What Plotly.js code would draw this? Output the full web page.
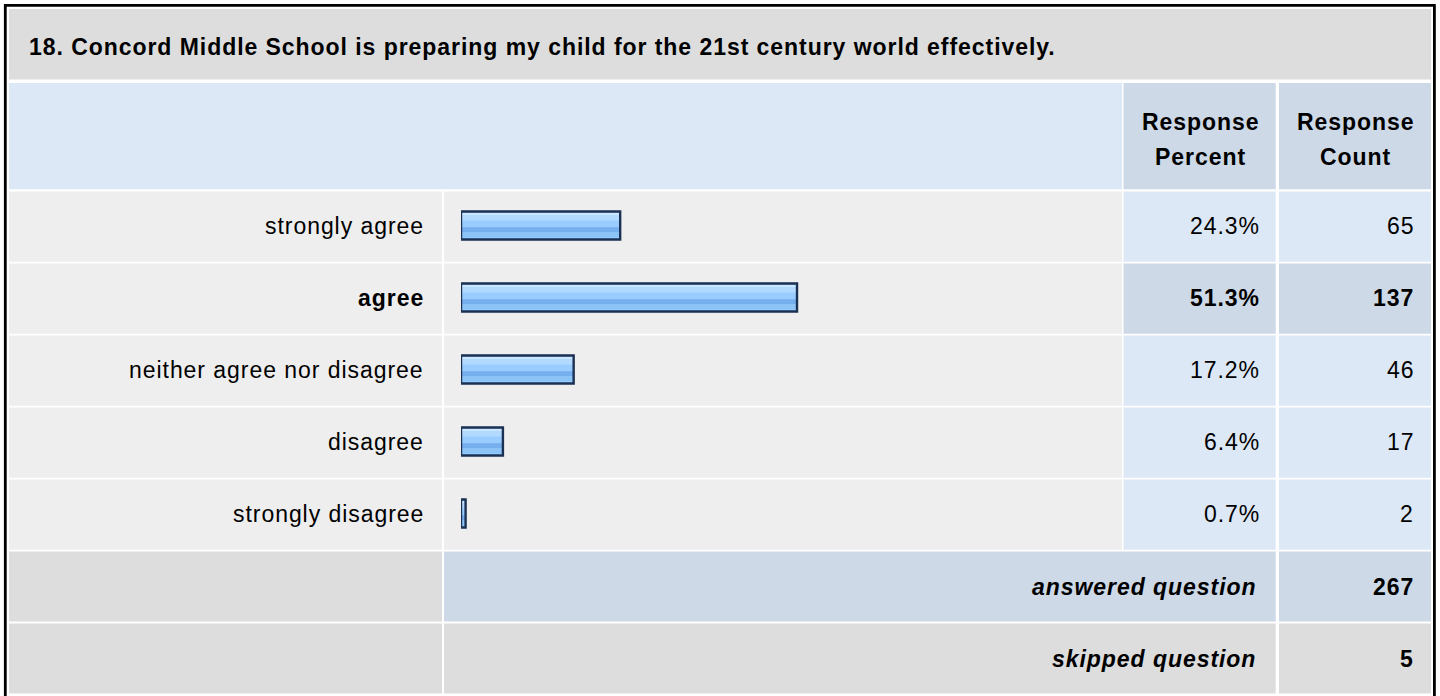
<!DOCTYPE html>
<html><head><meta charset="utf-8">
<script src="https://cdn.plot.ly/plotly-3.0.1.min.js"></script>
<style>html,body{margin:0;padding:0;background:#fff;overflow:hidden}
text{letter-spacing:0.95px}</style>
</head><body><div id="chart" style="width:1440px;height:696px"></div>
<script>
const questionTitle = "18. Concord Middle School is preparing my child for the 21st century world effectively.";
const categories = ["strongly agree", "agree", "neither agree nor disagree", "disagree", "strongly disagree"];
const responsePercent = [24.3, 51.3, 17.2, 6.4, 0.7];
const responseCount = [65, 137, 46, 17, 2];
const headerLabels = [["Response", "Percent"], ["Response", "Count"]];
const summaryLabels = ["answered question", "skipped question"];
const summaryCounts = [267, 5];

const W = 1440, H = 696;
const px = x => x / W;
const py = y => 1 - y / H;
const FONT = "Liberation Sans, Arial, sans-serif";
const FS = 23;
const ROW = 72;

const LIGHT = "#dde8f6", DARK = "#cdd9e6", GRAY = "#dddddd", ROWBG = "#eeeeee";
const maxIdx = responsePercent.indexOf(Math.max(...responsePercent));

function rect(x0, y0, x1, y1, color) {
  return {type: "rect", xref: "paper", yref: "paper", x0: px(x0), x1: px(x1), y0: py(y1), y1: py(y0),
          fillcolor: color, line: {width: 0}, layer: "below"};
}

const shapes = [];
shapes.push(rect(9, 9, 1431, 79.5, GRAY));
shapes.push(rect(9, 83, 1122, 189.3, LIGHT));
shapes.push(rect(1123.5, 83, 1275.7, 189.3, DARK));
shapes.push(rect(1279, 83, 1431, 189.3, DARK));
categories.forEach((c, i) => {
  const t = 191.5 + ROW * i, b = 261.7 + ROW * i;
  const cellC = i === maxIdx ? DARK : LIGHT;
  shapes.push(rect(9, t, 442, b, ROWBG));
  shapes.push(rect(444, t, 1122, b, ROWBG));
  shapes.push(rect(1123.5, t, 1275.7, b, cellC));
  shapes.push(rect(1279, t, 1431, b, cellC));
});
const sumTop = 191.5 + ROW * categories.length;
summaryLabels.forEach((s, j) => {
  const t = sumTop + ROW * j, b = t + 70;
  const c = j === 0 ? DARK : GRAY;
  shapes.push(rect(9, t, 442, b, GRAY));
  shapes.push(rect(444, t, 1275.7, b, c));
  shapes.push(rect(1279, t, 1431, b, c));
});
shapes.push({type: "rect", xref: "paper", yref: "paper", x0: px(5.3), x1: px(1434.4), y0: py(720), y1: py(5.3),
             line: {color: "#000", width: 2.8}, fillcolor: "rgba(0,0,0,0)", layer: "above"});

const annotations = [];
const txt = (x, y, text, anchor, yref) => ({xref: "paper", yref: yref || "paper", x: x, y: y, xanchor: anchor,
  align: anchor === "left" ? "left" : anchor === "right" ? "right" : "center",
  yanchor: "middle", text: text, showarrow: false, font: {family: FONT, size: FS, color: "#000"}});

annotations.push(txt(px(27), py(47), "<b>" + questionTitle + "</b>", "left"));
const headerX = [1200, 1355];
headerLabels.forEach((lines, k) => {
  lines.forEach((ln, m) => {
    annotations.push(txt(px(headerX[k] + 0.5), py(122 + 35 * m), "<b>" + ln + "</b>", "center"));
  });
});
categories.forEach((c, i) => {
  const bold = i === maxIdx;
  const w = s => bold ? "<b>" + s + "</b>" : s;
  annotations.push(txt(px(426), i, w(c), "right", "y"));
  annotations.push(txt(px(1262), i, w(responsePercent[i].toFixed(1) + "%"), "right", "y"));
  annotations.push(txt(px(1416), i, w(String(responseCount[i])), "right", "y"));
});
summaryLabels.forEach((s, j) => {
  const yc = sumTop + ROW * j + 35;
  annotations.push(txt(px(1258), py(yc), "<b><i>" + s + "</i></b>", "right"));
  annotations.push(txt(px(1416), py(yc), "<b>" + summaryCounts[j] + "</b>", "right"));
});

const BW = 28 / ROW;
function strip(fromPx, toPx, color) {
  return {type: "bar", orientation: "h", x: responsePercent, y: categories,
    offset: fromPx / ROW, width: (toPx - fromPx) / ROW,
    marker: {color: color, line: {width: 0}}, hoverinfo: "skip", showlegend: false};
}
const traces = [
  strip(-14, 14, "#99ccff"),
  strip(-13, -10, "#cce6ff"),
  strip(-10, -5, "#b3d9ff"),
  strip(1.7, 6.7, "#76afee"),
  strip(6.7, 11.7, "#8cc3f7"),
  {type: "bar", orientation: "h", x: responsePercent, y: categories, offset: -BW / 2, width: BW,
   marker: {color: "rgba(0,0,0,0)", line: {color: "#1b3154", width: 2.4}}, hoverinfo: "skip", showlegend: false}
];

const layout = {
  width: W, height: H, margin: {l: 0, r: 0, t: 0, b: 0},
  paper_bgcolor: "#ffffff", plot_bgcolor: "rgba(0,0,0,0)",
  barmode: "overlay", showlegend: false,
  xaxis: {domain: [px(461), px(1116)], range: [0, 100], visible: false, fixedrange: true},
  yaxis: {type: "category", categoryarray: categories, categoryorder: "array", range: [categories.length - 0.5, -0.5],
          domain: [py(549.5), py(189.5)], visible: false, fixedrange: true},
  shapes: shapes, annotations: annotations
};
Plotly.newPlot("chart", traces, layout, {displayModeBar: false, staticPlot: true});
</script></body></html>
